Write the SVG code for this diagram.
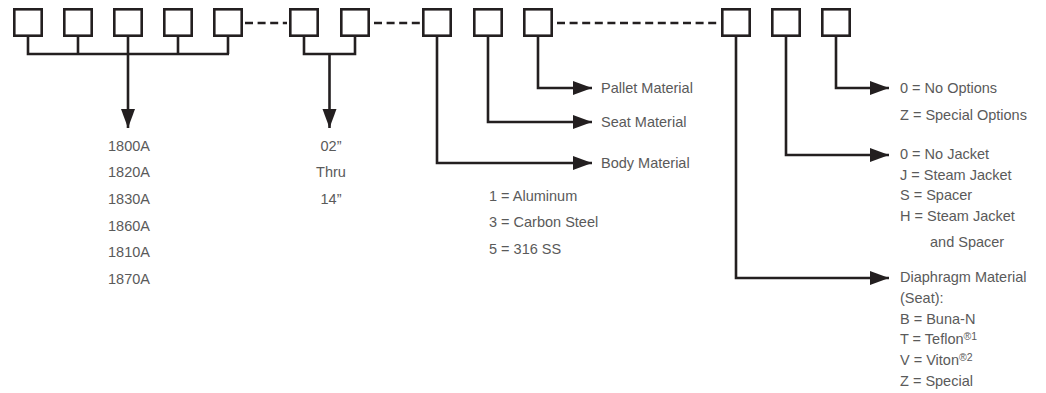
<svg xmlns="http://www.w3.org/2000/svg" width="1046" height="393" viewBox="0 0 1046 393">
<style>
.box{fill:#fff;stroke:#231f20;stroke-width:2.6}
.ln{fill:none;stroke:#231f20;stroke-width:2.6}
.dash{fill:none;stroke:#231f20;stroke-width:2.6;stroke-dasharray:8 4.6}
.t{font-family:"Liberation Sans",Arial,sans-serif;font-size:14.5px;fill:#5a5a5a}
.m{text-anchor:middle}
.sup{font-size:10.5px}
</style>
<defs>
<marker id="ah" markerUnits="userSpaceOnUse" markerWidth="20" markerHeight="15" refX="19" refY="7" orient="auto">
<path d="M0,0 L19,7 L0,14 z" fill="#231f20"/>
</marker>
</defs>
<rect width="1046" height="393" fill="#fff"/>
<g id="box1"><rect class="box" x="14.3" y="9.3" width="27.4" height="26.4"/></g>
<g id="box2"><rect class="box" x="64.3" y="9.3" width="27.4" height="26.4"/></g>
<g id="box3"><rect class="box" x="114.3" y="9.3" width="27.4" height="26.4"/></g>
<g id="box4"><rect class="box" x="164.3" y="9.3" width="27.4" height="26.4"/></g>
<g id="box5"><rect class="box" x="214.3" y="9.3" width="27.4" height="26.4"/></g>
<g id="box6"><rect class="box" x="290.3" y="9.3" width="27.4" height="26.4"/></g>
<g id="box7"><rect class="box" x="341.3" y="9.3" width="27.4" height="26.4"/></g>
<g id="box8"><rect class="box" x="423.3" y="9.3" width="27.4" height="26.4"/></g>
<g id="box9"><rect class="box" x="474.3" y="9.3" width="27.4" height="26.4"/></g>
<g id="box10"><rect class="box" x="524.3" y="9.3" width="27.4" height="26.4"/></g>
<g id="box11"><rect class="box" x="722.3" y="9.3" width="27.4" height="26.4"/></g>
<g id="box12"><rect class="box" x="772.3" y="9.3" width="27.4" height="26.4"/></g>
<g id="box13"><rect class="box" x="822.3" y="9.3" width="27.4" height="26.4"/></g>
<g id="connectors">
<path class="dash" d="M245,23 H287"/>
<path class="dash" d="M374,23 H420"/>
<path class="dash" d="M557,23 H719"/>
<path class="ln" d="M28,37 V54 H229 M78,37 V54 M128,37 V54 M178,37 V54 M228,37 V54"/>
<path class="ln" d="M128,54 V128" marker-end="url(#ah)"/>
<path class="ln" d="M304,37 V54 H355 V37"/>
<path class="ln" d="M329.5,54 V128" marker-end="url(#ah)"/>
<path class="ln" d="M538,37 V88 H592" marker-end="url(#ah)"/>
<path class="ln" d="M488,37 V122 H592" marker-end="url(#ah)"/>
<path class="ln" d="M437,37 V163 H592" marker-end="url(#ah)"/>
<path class="ln" d="M836,37 V88 H889" marker-end="url(#ah)"/>
<path class="ln" d="M786,37 V155 H889" marker-end="url(#ah)"/>
<path class="ln" d="M736,37 V278 H889" marker-end="url(#ah)"/>
</g>
<g id="models" class="t m">
<text x="129" y="151">1800A</text>
<text x="129" y="177">1820A</text>
<text x="129" y="204">1830A</text>
<text x="129" y="231">1860A</text>
<text x="129" y="257">1810A</text>
<text x="129" y="284">1870A</text>
</g>
<g id="sizes" class="t m">
<text x="331" y="151">02”</text>
<text x="331" y="177">Thru</text>
<text x="331" y="204">14”</text>
</g>
<g id="labels-mid" class="t">
<text x="601" y="93">Pallet Material</text>
<text x="601" y="127">Seat Material</text>
<text x="601" y="168">Body Material</text>
<text x="489" y="201">1 = Aluminum</text>
<text x="489" y="227">3 = Carbon Steel</text>
<text x="489" y="254">5 = 316 SS</text>
</g>
<g id="options" class="t">
<text x="900" y="93">0 = No Options</text>
<text x="900" y="120">Z = Special Options</text>
</g>
<g id="jacket" class="t">
<text x="900" y="159">0 = No Jacket</text>
<text x="900" y="180">J = Steam Jacket</text>
<text x="900" y="200">S = Spacer</text>
<text x="900" y="221">H = Steam Jacket</text>
<text x="930" y="247">and Spacer</text>
</g>
<g id="diaphragm" class="t">
<text x="900" y="282">Diaphragm Material</text>
<text x="900" y="303">(Seat):</text>
<text x="900" y="324">B = Buna-N</text>
<text x="900" y="344">T = Teflon<tspan class="sup" dy="-4">®1</tspan></text>
<text x="900" y="365">V = Viton<tspan class="sup" dy="-4">®2</tspan></text>
<text x="900" y="386">Z = Special</text>
</g>
</svg>
